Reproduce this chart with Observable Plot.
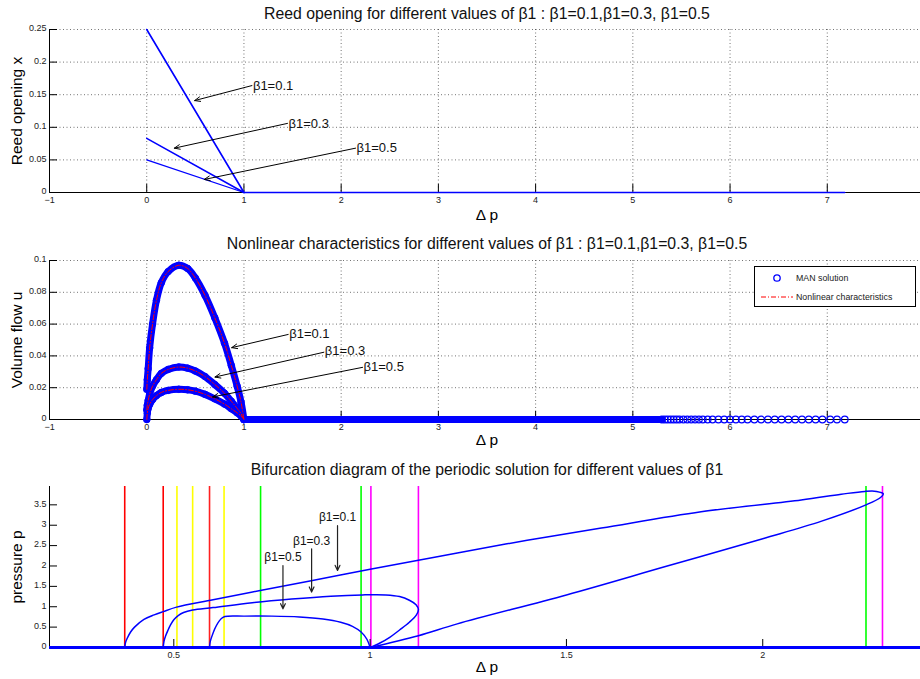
<!DOCTYPE html>
<html><head><meta charset="utf-8">
<script src="https://cdn.jsdelivr.net/npm/d3@7"></script>
<script src="https://cdn.jsdelivr.net/npm/@observablehq/plot@0.6"></script>
<style>
body{margin:0;background:#fff;overflow:hidden;font-family:"Liberation Sans",Arial,sans-serif;}
#root{position:relative;width:920px;height:679px;overflow:hidden;background:#fff;}
.abs{position:absolute;white-space:nowrap;color:#000;line-height:1;}
.title{font-size:15.8px;transform:translate(-50%,-50%);color:#111;}
.ylab{font-size:15.5px;transform:translate(-50%,-50%) rotate(-90deg);}
.xlab{font-size:15.5px;transform:translate(-50%,-50%);}
.plotbox{position:absolute;left:0;}
</style></head><body><div id="root"></div>
<script>
// ================= DATA =================
const betaLabels = ["β1=0.1", "β1=0.3", "β1=0.5"];
const titles = [
  "Reed opening for different values of β1 : β1=0.1,β1=0.3, β1=0.5",
  "Nonlinear characteristics for different values of β1 : β1=0.1,β1=0.3, β1=0.5",
  "Bifurcation diagram of the periodic solution for different values of β1"
];
const yLabels = ["Reed opening x", "Volume flow u", "pressure p"];
const xLabel = "Δ p";
const legendLabels = ["MAN solution", "Nonlinear characteristics"];

// ---- Panel 1: reed opening ----
const reedDp = [0, 1];
const reedOpen01 = [0.25, 0];
const reedOpen03 = [0.083, 0];
const reedOpen05 = [0.05, 0];
const reedClosedDp = [1, 7.18];
const reedClosedX = [0, 0];
const p1XDomain = [-1, 8];
const p1YDomain = [0, 0.25];
const p1XTicks = [-1, 0, 1, 2, 3, 4, 5, 6, 7];
const p1YTicks = [0, 0.05, 0.1, 0.15, 0.2, 0.25];
const p1ArrowTailDp = [1.082, 1.448, 2.148];
const p1ArrowTailX = [0.164, 0.106, 0.068];
const p1ArrowHeadDp = [0.493, 0.284, 0.592];
const p1ArrowHeadX = [0.141, 0.068, 0.020];

// ---- Panel 2: volume flow ----
const flowDp = [0.001, 0.006, 0.015, 0.03, 0.06, 0.1, 0.15, 0.22, 0.33, 0.42, 0.5, 0.6, 0.7, 0.8, 0.87, 0.93, 0.97, 1.0];
const flowU01 = [0.019, 0.025, 0.032, 0.045, 0.06, 0.075, 0.086, 0.093, 0.097, 0.095, 0.089, 0.078, 0.064, 0.048, 0.034, 0.021, 0.011, 0];
const flowU03 = [0.006, 0.009, 0.012, 0.016, 0.021, 0.025, 0.029, 0.0315, 0.033, 0.0323, 0.0305, 0.027, 0.022, 0.0165, 0.0115, 0.007, 0.0037, 0];
const flowU05 = [0.0, 0.004, 0.007, 0.0095, 0.0125, 0.015, 0.017, 0.0183, 0.019, 0.0187, 0.0178, 0.0158, 0.013, 0.0097, 0.0068, 0.0042, 0.0022, 0];
const flowZeroBandDp = [1.0, 5.3];
const flowZeroBandU = [0, 0];
const flowZeroDotsDp = [5.30, 5.33, 5.36, 5.39, 5.42, 5.45, 5.48, 5.52, 5.56, 5.60, 5.64, 5.68, 5.72, 5.77, 5.82, 5.88, 5.94, 6.00, 6.06, 6.12, 6.18, 6.25, 6.32, 6.39, 6.46, 6.53, 6.60, 6.67, 6.74, 6.81, 6.88, 6.95, 7.03, 7.10, 7.18];
const p2XDomain = [-1, 8];
const p2YDomain = [0, 0.1];
const p2XTicks = [-1, 0, 1, 2, 3, 4, 5, 6, 7];
const p2YTicks = [0, 0.02, 0.04, 0.06, 0.08, 0.1];
const p2ArrowTailDp = [1.455, 1.822, 2.22];
const p2ArrowTailU = [0.0535, 0.0423, 0.0328];
const p2ArrowHeadDp = [0.874, 0.702, 0.678];
const p2ArrowHeadU = [0.0452, 0.0267, 0.0142];

// ---- Panel 3: bifurcation diagram ----
const bifDp01 = [0.375, 0.377, 0.381, 0.39, 0.4, 0.424, 0.45, 0.473, 0.507, 0.6, 0.72, 0.85, 1.0, 1.123, 1.222, 1.4, 1.589, 1.843, 2.098, 2.2, 2.26, 2.29, 2.307, 2.3, 2.263, 2.15, 2.0, 1.75, 1.5, 1.222, 1.123, 1.0];
const bifP01  = [0, 0.12, 0.22, 0.38, 0.5, 0.69, 0.8, 0.88, 0.99, 1.17, 1.40, 1.64, 1.92, 2.14, 2.32, 2.63, 2.93, 3.33, 3.62, 3.76, 3.83, 3.83, 3.77, 3.68, 3.5, 3.1, 2.67, 1.98, 1.29, 0.58, 0.29, 0];
const bifDp03 = [0.473, 0.475, 0.479, 0.485, 0.492, 0.5, 0.512, 0.525, 0.548, 0.6, 0.7, 0.8, 0.9, 0.98, 1.04, 1.075, 1.1, 1.117, 1.123, 1.118, 1.1, 1.075, 1.05, 1.025, 1.0];
const bifP03  = [0, 0.15, 0.28, 0.42, 0.56, 0.68, 0.79, 0.86, 0.92, 0.98, 1.10, 1.19, 1.26, 1.29, 1.29, 1.25, 1.16, 1.05, 0.93, 0.8, 0.62, 0.43, 0.25, 0.11, 0];
const bifDp05 = [0.591, 0.593, 0.598, 0.604, 0.612, 0.62, 0.63, 0.68, 0.75, 0.82, 0.88, 0.925, 0.955, 0.977, 0.992, 1.0];
const bifP05  = [0, 0.15, 0.3, 0.45, 0.6, 0.7, 0.76, 0.77, 0.77, 0.75, 0.70, 0.62, 0.52, 0.38, 0.2, 0];
const bifThresholdDp = [0.375, 0.473, 0.508, 0.548, 0.591, 0.628, 0.721, 0.977, 1.002, 1.123, 2.263, 2.305];
const bifThresholdColor = ["#ff0000", "#ff0000", "#ffff00", "#ffff00", "#ff2020", "#ffff00", "#00ff00", "#00ff00", "#ff00ff", "#ff00ff", "#00ff00", "#ff00ff"];
const p3XDomain = [0.1834, 2.412];
const p3YDomain = [0, 3.95];
const p3XTicks = [0.5, 1, 1.5, 2];
const p3YTicks = [0, 0.5, 1, 1.5, 2, 2.5, 3, 3.5];
const p3LabelDp = [0.917, 0.851, 0.778];
const p3LabelP = [3.2, 2.6, 2.21];
const p3ArrowTailP = [2.99, 2.42, 2.01];
const p3ArrowHeadP = [1.89, 1.36, 0.95];

// ================= HELPERS =================
const zip = (xs, ys) => xs.map((x, i) => ({x, y: ys[i]}));
const fmt = d => d < 0 ? "\u2212" + Math.abs(d) : String(d);
const W = 924, ML = 49;
const root = document.getElementById("root");
const baseStyle = {background: "transparent", maxWidth: "none", overflow: "visible", fontFamily: "'Liberation Sans', Arial, sans-serif", fontSize: "9px", color: "#222"};

function axes(xTicks, yTicks, xDom, grid) {
  const m = [];
  if (grid) {
    m.push(Plot.gridX(xTicks, {stroke: "#000", strokeOpacity: 0.55, strokeDasharray: "1,2.5"}));
    m.push(Plot.gridY(yTicks, {stroke: "#000", strokeOpacity: 0.55, strokeDasharray: "1,2.5"}));
  }
  m.push(Plot.ruleX([xDom[0]], {stroke: "#000", strokeWidth: 1}));
  m.push(Plot.ruleY([0], {stroke: "#000", strokeWidth: 1}));
  m.push(Plot.axisX(xTicks, {anchor: "bottom", tickSize: 8, dy: -8, tickFormat: () => "", label: null, stroke: "#000"}));
  m.push(Plot.axisX(xTicks, {anchor: "bottom", tickSize: 0, tickPadding: 4, tickFormat: fmt, label: null, fill: "#222"}));
  m.push(Plot.axisY(yTicks, {anchor: "left", tickSize: 8, dx: 8, tickFormat: () => "", label: null, stroke: "#000"}));
  m.push(Plot.axisY(yTicks, {anchor: "left", tickSize: 0, tickPadding: 3, tickFormat: fmt, label: null, fill: "#222", dy: -1}));
  return m;
}

function place(svg, top) {
  const d = document.createElement("div");
  d.className = "plotbox";
  d.style.top = top + "px";
  d.appendChild(svg);
  root.appendChild(d);
}
function addText(cls, txt, x, y) {
  const d = document.createElement("div");
  d.className = "abs " + cls;
  d.textContent = txt;
  d.style.left = x + "px";
  d.style.top = y + "px";
  root.appendChild(d);
  return d;
}

// ================= PANEL 1 =================
const arrows1 = p1ArrowTailDp.map((t, i) => ({x1: t, y1: p1ArrowTailX[i], x2: p1ArrowHeadDp[i], y2: p1ArrowHeadX[i], label: betaLabels[i]}));
const p1 = Plot.plot({
  width: W, height: 182, marginTop: 5, marginBottom: 14, marginLeft: ML, marginRight: 0,
  style: baseStyle,
  x: {domain: p1XDomain, label: null},
  y: {domain: p1YDomain, label: null},
  marks: [
    ...axes(p1XTicks, p1YTicks, p1XDomain, true),
    Plot.line(zip(reedDp, reedOpen01), {x: "x", y: "y", stroke: "#0000ff", strokeWidth: 1.6}),
    Plot.line(zip(reedDp, reedOpen03), {x: "x", y: "y", stroke: "#0000ff", strokeWidth: 1.6}),
    Plot.line(zip(reedDp, reedOpen05), {x: "x", y: "y", stroke: "#0000ff", strokeWidth: 1.3}),
    Plot.line(zip(reedClosedDp, reedClosedX), {x: "x", y: "y", stroke: "#0000ff", strokeWidth: 1.6}),
    Plot.arrow(arrows1, {x1: "x1", y1: "y1", x2: "x2", y2: "y2", stroke: "#000", strokeWidth: 1, headLength: 9, headAngle: 45}),
    Plot.text(arrows1, {x: "x1", y: "y1", text: "label", textAnchor: "start", dx: 1, fontSize: 13, fill: "#111"})
  ]
});
place(p1, 24);

// ================= PANEL 2 =================
const arrows2 = p2ArrowTailDp.map((t, i) => ({x1: t, y1: p2ArrowTailU[i], x2: p2ArrowHeadDp[i], y2: p2ArrowHeadU[i], label: betaLabels[i]}));
const flowSeries = [flowU01, flowU03, flowU05].map(us => zip(flowDp, us));
const bandMarks = [];
for (const s of flowSeries) {
  bandMarks.push(Plot.line(s, {x: "x", y: "y", stroke: "#0000ff", strokeWidth: 7, curve: "catmull-rom"}));
  bandMarks.push(Plot.dot(s, {x: "x", y: "y", r: 3.3, stroke: "#0000ff", fill: "none", strokeWidth: 1}));
}
const redMarks = flowSeries.map(s => Plot.line(s, {x: "x", y: "y", stroke: "#ff0000", strokeWidth: 1, strokeDasharray: "5,2,1,2", curve: "catmull-rom"}));
const p2 = Plot.plot({
  width: W, height: 179, marginTop: 6, marginBottom: 14, marginLeft: ML, marginRight: 0,
  style: baseStyle,
  x: {domain: p2XDomain, label: null},
  y: {domain: p2YDomain, label: null},
  marks: [
    ...axes(p2XTicks, p2YTicks, p2XDomain, true),
    Plot.line(zip(flowZeroBandDp, flowZeroBandU), {x: "x", y: "y", stroke: "#0000ff", strokeWidth: 7}),
    Plot.dot(flowZeroDotsDp, {x: d => d, y: () => 0, r: 3.3, stroke: "#0000ff", fill: "none", strokeWidth: 1.2}),
    ...bandMarks,
    ...redMarks,
    Plot.arrow(arrows2, {x1: "x1", y1: "y1", x2: "x2", y2: "y2", stroke: "#000", strokeWidth: 1, headLength: 9, headAngle: 45}),
    Plot.text(arrows2, {x: "x1", y: "y1", text: "label", textAnchor: "start", dx: 1, dy: -1, fontSize: 13, fill: "#111"})
  ]
});
place(p2, 254);

// ================= PANEL 3 =================
const arrows3 = p3LabelDp.map((x, i) => ({x, ly: p3LabelP[i], y1: p3ArrowTailP[i], y2: p3ArrowHeadP[i], label: betaLabels[i]}));
const thresholds = bifThresholdDp.map((x, i) => ({x, c: bifThresholdColor[i]}));
const p3 = Plot.plot({
  width: W, height: 181, marginTop: 6, marginBottom: 14, marginLeft: ML, marginRight: 0,
  style: baseStyle,
  x: {domain: p3XDomain, label: null},
  y: {domain: p3YDomain, label: null},
  color: {type: "identity"},
  marks: [
    Plot.ruleX(thresholds, {x: "x", stroke: "c", strokeWidth: 1.6}),
    ...axes(p3XTicks, p3YTicks, p3XDomain, false),
    Plot.ruleY([0], {stroke: "#0000ff", strokeWidth: 3}),
    Plot.line(zip(bifDp01, bifP01), {x: "x", y: "y", stroke: "#0000ff", strokeWidth: 1.5, curve: "catmull-rom"}),
    Plot.line(zip(bifDp03, bifP03), {x: "x", y: "y", stroke: "#0000ff", strokeWidth: 1.5, curve: "catmull-rom"}),
    Plot.line(zip(bifDp05, bifP05), {x: "x", y: "y", stroke: "#0000ff", strokeWidth: 1.4, curve: "catmull-rom"}),
    Plot.arrow(arrows3, {x1: "x", y1: "y1", x2: "x", y2: "y2", stroke: "#222", strokeWidth: 1.2, headLength: 7, headAngle: 50}),
    Plot.text(arrows3, {x: "x", y: "ly", text: "label", textAnchor: "middle", fontSize: 12, fill: "#111"})
  ]
});
place(p3, 480);

// ================= TEXT =================
addText("title", titles[0], 487, 14);
addText("title", titles[1], 487, 244);
addText("title", titles[2], 487, 470);
addText("ylab", yLabels[0], 17, 111);
addText("ylab", yLabels[1], 17, 340);
addText("ylab", yLabels[2], 17, 567);
addText("xlab", xLabel, 487, 215);
addText("xlab", xLabel, 487, 440);
addText("xlab", xLabel, 487, 667);

// ================= LEGEND (panel 2) =================
const leg = document.createElement("div");
leg.style.cssText = "position:absolute;left:754px;top:266px;width:160px;height:39px;border:1.3px solid #000;background:#fff;";
root.appendChild(leg);
const ns = "http://www.w3.org/2000/svg";
const lsvg = document.createElementNS(ns, "svg");
lsvg.setAttribute("width", 160); lsvg.setAttribute("height", 39);
lsvg.style.cssText = "position:absolute;left:0;top:0;";
const circ = document.createElementNS(ns, "circle");
circ.setAttribute("cx", 22); circ.setAttribute("cy", 11); circ.setAttribute("r", 3.2);
circ.setAttribute("fill", "none"); circ.setAttribute("stroke", "#0000ff"); circ.setAttribute("stroke-width", 1.3);
lsvg.appendChild(circ);
const ln = document.createElementNS(ns, "line");
ln.setAttribute("x1", 6); ln.setAttribute("x2", 38); ln.setAttribute("y1", 30); ln.setAttribute("y2", 30);
ln.setAttribute("stroke", "#ff0000"); ln.setAttribute("stroke-width", 1); ln.setAttribute("stroke-dasharray", "5,2,1,2");
lsvg.appendChild(ln);
legendLabels.forEach((t, i) => {
  const tx = document.createElementNS(ns, "text");
  tx.setAttribute("x", 41); tx.setAttribute("y", i === 0 ? 14 : 33);
  tx.setAttribute("font-size", 8.8); tx.setAttribute("font-family", "'Liberation Sans', Arial, sans-serif");
  tx.setAttribute("fill", "#222");
  tx.textContent = t;
  lsvg.appendChild(tx);
});
leg.appendChild(lsvg);
</script></body></html>
